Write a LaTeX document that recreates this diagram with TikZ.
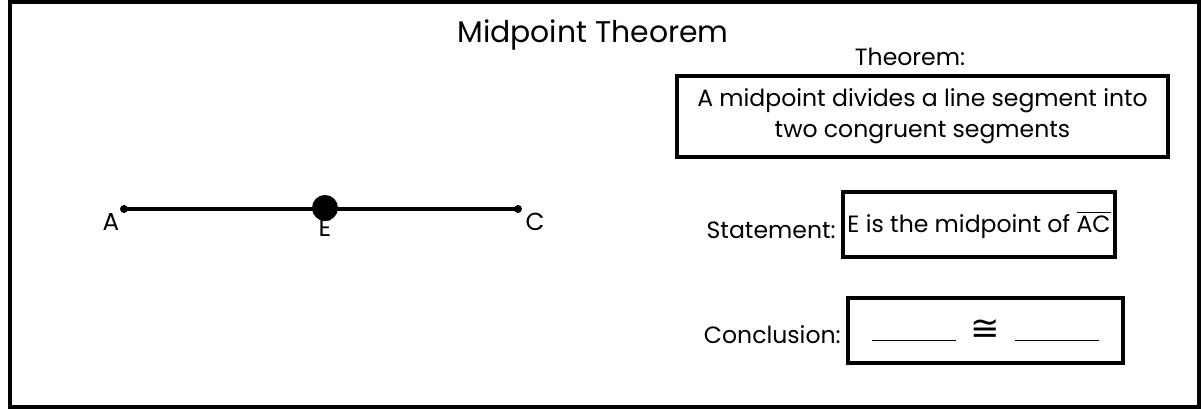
\documentclass[tikz,border=0pt]{standalone}
\usepackage{amsmath,amssymb}
\usepackage{fontspec}
\setmainfont{Poppins}
\newfontfamily\symfont{DejaVu Sans}
\usetikzlibrary{positioning}
\tikzset{
  thmbox/.style={draw=black, line width=0.08cm, align=center, inner sep=0pt},
  lbltext/.style={font=\fontsize{13.4}{17.6}\selectfont, inner sep=0pt},
  ptlabel/.style={font=\fontsize{14}{16}\selectfont, inner sep=0pt, anchor=base},
  enddot/.style={circle, fill=black, inner sep=0pt, minimum size=0.16cm},
  middot/.style={circle, fill=black, inner sep=0pt, minimum size=0.52cm}
}
\newcommand{\blankline}{\rule[-0.06cm]{1.68cm}{0.035cm}}

\begin{document}
\begin{tikzpicture}
  \useasboundingbox (0,0) rectangle (24.02,8.18);
  % Outer frame
  \node[draw=black, line width=0.08cm, minimum width=23.78cm, minimum height=8.10cm, inner sep=0pt] (frame) at (12.09,4.09) {};
  % Title
  \node[font=\fontsize{17}{20}\selectfont, inner sep=0pt, anchor=base] (title) at (11.86,7.32) {Midpoint Theorem};
  % Segment AC with midpoint E
  \node[enddot] (A) at (2.48,4.00) {};
  \node[enddot] (C) at (10.36,4.00) {};
  \draw[line width=0.07cm] (A.center) -- (C.center);
  \node[middot] (E) at (6.50,4.02) {};
  \node[ptlabel] (labA) at (2.22,3.56) {A};
  \node[ptlabel] (labE) at (6.50,3.44) {E};
  \node[ptlabel] (labC) at (10.70,3.56) {C};
  % Theorem
  \node[lbltext, anchor=base] (thmlbl) at (18.20,6.86) {Theorem:};
  \node[thmbox, lbltext, minimum width=9.82cm, minimum height=1.62cm] (thm) at (18.45,5.85) {A midpoint divides a line segment into\\two congruent segments};
  % Statement
  \node[thmbox, lbltext, minimum width=5.44cm, minimum height=1.30cm] (stmt) at (19.58,3.69) {E is the midpoint of $\overline{\text{AC}}$};
  \node[lbltext, left=0.1cm of stmt, yshift=-0.12cm] (stmtlbl) {Statement:};
  % Conclusion
  \node[thmbox, lbltext, minimum width=5.50cm, minimum height=1.30cm] (concl) at (19.71,1.57) {\blankline\hspace{0.3cm}\raisebox{-0.04cm}{\symfont\fontsize{20}{20}\selectfont ≅}\hspace{0.3cm}\blankline};
  \node[lbltext, left=0.1cm of concl, yshift=-0.08cm] (concllbl) {Conclusion:};
\end{tikzpicture}
\end{document}
